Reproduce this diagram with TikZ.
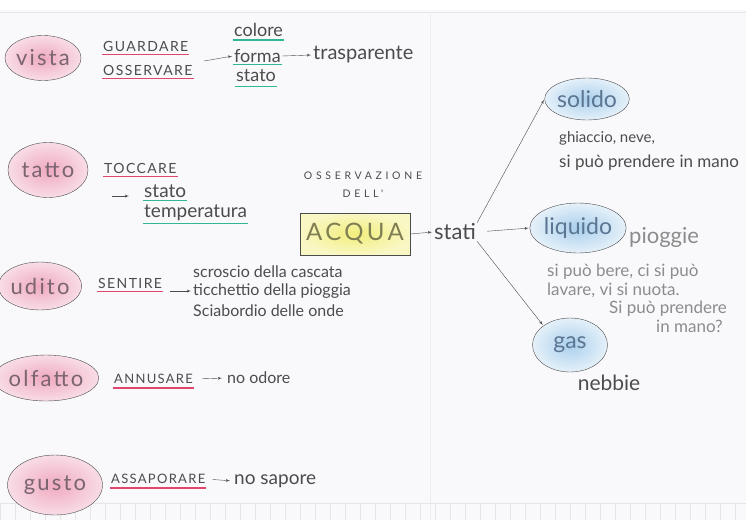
\documentclass[tikz,border=0pt]{standalone}
\usepackage{xcolor}
\usepackage{fontspec}
\setmainfont{Lato}
\newfontfamily\maiuscolofam[LetterSpace=10]{Lato}
\newfontfamily\spaziatofam[LetterSpace=35]{Lato}
\newfontfamily\acquafam[LetterSpace=14]{Lato}
\usepackage{tikz}
\usetikzlibrary{positioning}
\usetikzlibrary{arrows}
\usetikzlibrary{shapes.geometric}

\definecolor{carta}{HTML}{F9F8FB}
\definecolor{rosa}{HTML}{EFA9C0}
\definecolor{celeste}{HTML}{A9CFEC}
\definecolor{giallo}{HTML}{F2EE7C}
\definecolor{rossoriga}{HTML}{E0466E}
\definecolor{verderiga}{HTML}{2FB896}
\definecolor{matita}{HTML}{4C4C4C}
\definecolor{grigio}{HTML}{8C8C8C}
\definecolor{testorosa}{HTML}{7A6470}
\definecolor{testoceleste}{HTML}{5B7592}
\definecolor{testoacqua}{HTML}{7E7E52}

\begin{document}
\begin{tikzpicture}[x=1pt,y=-1pt,
		senso/.style={ellipse, draw=black!70, thin, inner sep=0pt, inner color=rosa, outer color=rosa!40, text=testorosa, font=\maiuscolofam\fontsize{22}{22}\selectfont},
		fase/.style={ellipse, draw=black!70, thin, inner sep=0pt, inner color=celeste, outer color=celeste!30, text=testoceleste, font=\fontsize{23}{23}\selectfont},
		verbo/.style={inner sep=1pt, text=matita, font=\maiuscolofam\fontsize{#1}{#1}\selectfont},
		verbo/.default=14,
		titolo/.style={inner sep=1pt, text=matita, font=\spaziatofam\fontsize{10.5}{10.5}\selectfont},
		scritta/.style={inner sep=1pt, text=matita, font=\fontsize{#1}{#1}\selectfont},
		appunto/.style={inner sep=1pt, text=grigio, font=\fontsize{#1}{#1}\selectfont},
		rossa/.style={draw=rossoriga, line width=1.3pt},
		verde/.style={draw=verderiga, line width=1.3pt},
		freccia/.style={draw=matita, -latex', thin, shorten >=1pt}]
		\useasboundingbox (0,0) rectangle (746,520);
		% foglio
		\fill[white] (0,0) rectangle (746,10);
		\fill[carta] (0,10) rectangle (746,520);
		\draw[black!10] (0,12) -- (746,12);
		\draw[black!7] (430,12) -- (430,520);
		\draw[black!10] (0,503) -- (746,503);
		\foreach \x in {0,15,...,746}
			\draw[black!10] (\x,503) -- (\x,520);

		% vista
		\node[senso, minimum width=70, minimum height=45] (vista) at (43,58) {vista};
		\node[verbo, anchor=west] (guardare) at (102,46) {GUARDARE};
		\node[verbo, anchor=west] (osservare) at (102,70) {OSSERVARE};
		\coordinate (daVerbi) at (204,61);
		\node[scritta=18, anchor=west] (colore) at (233,30) {colore};
		\node[scritta=18, anchor=west] (forma) at (233,56) {forma};
		\node[scritta=18, anchor=west] (statoV) at (235,76) {stato};
		\node[scritta=20, anchor=west] (trasparente) at (312,55) {trasparente};
		\path[draw, rossa] ([yshift=-2pt]guardare.south west) -- ([yshift=-2pt]guardare.south east);
		\path[draw, rossa] ([yshift=-2pt]osservare.south west) -- ([yshift=-2pt]osservare.south east);
		\path[draw, verde] ([yshift=-2pt]colore.south west) -- ([yshift=-2pt]colore.south east);
		\path[draw, verde] ([yshift=-1pt]forma.south west) -- ([yshift=-1pt]forma.south east);
		\path[draw, verde] ([yshift=-3pt]statoV.south west) -- ([yshift=-3pt]statoV.south east);
		\path[freccia] (daVerbi) -- (forma.west);
		\path[freccia] (forma.east) -- (trasparente.west);

		% tatto
		\node[senso, minimum width=80, minimum height=55] (tatto) at (48,170) {tatto};
		\node[verbo, anchor=west] (toccare) at (103,168) {TOCCARE};
		\coordinate (daToccare) at (112,196);
		\node[scritta=19, anchor=west] (statoT) at (143,191) {stato};
		\node[scritta=19, anchor=west] (temperatura) at (143,213) {temperatura};
		\path[draw, rossa] ([yshift=-2pt]toccare.south west) -- ([yshift=-2pt]toccare.south east);
		\path[draw, verde] ([yshift=-2pt]statoT.south west) -- ([yshift=-2pt]statoT.south east);
		\path[draw, verde] ([yshift=-1pt]temperatura.south west) -- ([yshift=-1pt]temperatura.south east);
		\path[freccia, shorten >=14pt] (daToccare) -- (daToccare -| statoT.west);

		% acqua
		\node[titolo] (osservazione) at (363,176) {OSSERVAZIONE};
		\node[titolo] (dell) at (363,194) {DELL'};
		\node[draw=matita, inner color=giallo, outer color=giallo!45, minimum width=110, minimum height=42, text=testoacqua, font=\acquafam\fontsize{24}{24}\selectfont] (acqua) at (355,234) {ACQUA};
		\node[scritta=22, anchor=west] (stati) at (433,232) {stati};
		\path[freccia] (acqua.east) -- (stati.west);

		% stati
		\node[fase, minimum width=73, minimum height=42] (solido) at (587,99) {solido};
		\node[fase, minimum width=95, minimum height=50] (liquido) at (578,228) {liquido};
		\node[fase, minimum width=75, minimum height=54] (gas) at (570,345) {gas};
		\path[freccia] (stati.north east) -- (solido.west);
		\path[freccia, shorten <=10pt] (stati.east) -- (liquido.west);
		\path[freccia] (stati.south east) -- (gas.north west);
		\node[scritta=15, anchor=west] (ghiaccio) at (558,138) {ghiaccio, neve,};
		\node[scritta=17, anchor=west] (prendereS) at (558,163) {si può prendere in mano};
		\node[appunto=22, anchor=west] (pioggie) at (628,237) {pioggie};
		\node[appunto=17, anchor=west] (bere) at (546,272) {si può bere, ci si può};
		\node[appunto=17, anchor=west] (lavare) at (546,290) {lavare, vi si nuota.};
		\node[appunto=17, anchor=west] (prendereL) at (608,309) {Si può prendere};
		\node[appunto=17, anchor=west] (mano) at (655,326) {in mano?};
		\node[scritta=21] (nebbie) at (609,383) {nebbie};

		% udito
		\node[senso, minimum width=70, minimum height=48] (udito) at (40,286) {udito};
		\node[verbo, anchor=west] (sentire) at (97,283) {SENTIRE};
		\node[scritta=16, anchor=west] (scroscio) at (192,272) {scroscio della cascata};
		\node[scritta=16, anchor=west] (ticchettio) at (192,291) {ticchettio della pioggia};
		\node[scritta=16, anchor=west] (sciabordio) at (192,311) {Sciabordio delle onde};
		\path[draw, rossa] ([yshift=-2pt]sentire.south west) -- ([yshift=-2pt]sentire.south east);
		\path[freccia, shorten <=7pt] (sentire.east |- ticchettio.west) -- (ticchettio.west);

		% olfatto
		\node[senso, minimum width=78, minimum height=46] (olfatto) at (46,378) {olfatto};
		\node[verbo=13, anchor=west] (annusare) at (113,379) {ANNUSARE};
		\node[scritta=16, anchor=west] (noodore) at (226,378) {no odore};
		\path[draw, rossa] ([yshift=-3pt]annusare.south west) -- ([yshift=-3pt]annusare.south east);
		\path[freccia, shorten <=8pt, shorten >=4pt] (annusare.east) -- (noodore.west);

		% gusto
		\node[senso, minimum width=95, minimum height=60] (gusto) at (55,485) {gusto};
		\node[verbo=13, anchor=west] (assaporare) at (110,479) {ASSAPORARE};
		\node[scritta=19, anchor=west] (nosapore) at (233,481) {no sapore};
		\path[draw, rossa] ([yshift=-3pt]assaporare.south west) -- ([yshift=-3pt]assaporare.south east);
		\path[freccia, shorten <=6pt, shorten >=3pt] (assaporare.east) -- (nosapore.west);
	\end{tikzpicture}
\end{document}
